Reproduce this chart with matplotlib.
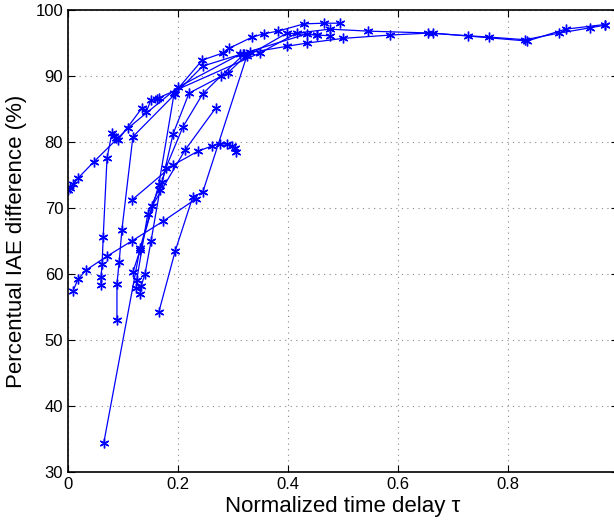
import matplotlib
matplotlib.use("Agg")
import matplotlib.pyplot as plt

plt.rcParams['font.family'] = ['Liberation Sans', 'DejaVu Sans']

# Each series: normalized time delay tau and percentual IAE difference
tau_1 = [0.000, 0.004, 0.009, 0.018, 0.047, 0.109, 0.200, 0.313, 0.398, 0.435, 0.500,
         0.585, 0.655, 0.727, 0.765, 0.831, 0.893, 0.949, 0.976]
iae_1 = [72.7, 73.0, 73.6, 74.5, 77.0, 82.1, 88.3, 93.3, 94.5, 95.0, 95.7,
         96.2, 96.5, 96.1, 95.9, 95.5, 96.5, 97.3, 97.7]

tau_2 = [0.060, 0.060, 0.062, 0.064, 0.071, 0.080, 0.084, 0.087, 0.091, 0.135, 0.142,
         0.151, 0.162, 0.165, 0.349, 0.416, 0.476, 0.545, 0.664, 0.835, 0.905, 0.976]
iae_2 = [58.3, 59.5, 61.5, 65.6, 77.6, 81.4, 80.9, 80.6, 80.3, 85.2, 84.5,
         86.4, 86.5, 86.7, 93.5, 96.5, 97.1, 96.8, 96.5, 95.3, 97.1, 97.8]

tau_3 = [0.116, 0.191, 0.236, 0.262, 0.276, 0.289, 0.298, 0.304, 0.305]
iae_3 = [71.2, 76.5, 78.6, 79.4, 79.7, 79.7, 79.4, 79.1, 78.5]

tau_4 = [0.089, 0.089, 0.093, 0.098, 0.118, 0.195, 0.245, 0.318, 0.435, 0.453, 0.476]
iae_4 = [53.0, 58.5, 61.8, 66.7, 80.8, 87.3, 91.5, 93.4, 96.4, 96.2, 96.1]

tau_5 = [0.009, 0.018, 0.033, 0.071, 0.116, 0.173, 0.233]
iae_5 = [57.4, 59.2, 60.6, 62.7, 65.0, 68.0, 71.4]

tau_6 = [0.165, 0.195, 0.227, 0.245, 0.325, 0.398, 0.453]
iae_6 = [54.2, 63.5, 71.7, 72.4, 93.0, 96.5, 96.2]

tau_7 = [0.124, 0.125, 0.145, 0.171, 0.191, 0.220, 0.291, 0.330]
iae_7 = [57.9, 59.1, 69.1, 73.9, 81.2, 87.4, 90.5, 93.6]

tau_8 = [0.131, 0.133, 0.140, 0.151, 0.167, 0.178, 0.209, 0.245, 0.278, 0.320]
iae_8 = [57.0, 58.2, 60.0, 65.0, 72.7, 76.1, 82.3, 87.3, 90.0, 93.3]

tau_9 = [0.118, 0.131, 0.165, 0.193, 0.244, 0.282, 0.293, 0.335, 0.356, 0.382,
         0.429, 0.465, 0.495]
iae_9 = [60.3, 63.6, 73.5, 87.4, 92.4, 93.5, 94.2, 95.9, 96.4, 96.8,
         97.9, 98.0, 98.0]

tau_10 = [0.065, 0.131, 0.153, 0.213, 0.269]
iae_10 = [34.4, 63.9, 70.3, 78.8, 85.2]

series = [(tau_1, iae_1), (tau_2, iae_2), (tau_3, iae_3), (tau_4, iae_4),
          (tau_5, iae_5), (tau_6, iae_6), (tau_7, iae_7), (tau_8, iae_8),
          (tau_9, iae_9), (tau_10, iae_10)]

xticks = [0, 0.2, 0.4, 0.6, 0.8, 1]
xticklabels = ['0', '0.2', '0.4', '0.6', '0.8', '1']
yticks = [30, 40, 50, 60, 70, 80, 90, 100]

fig = plt.figure(figsize=(6.14, 5.22), dpi=100)
ax = fig.add_axes([68 / 614, 50 / 522, 550 / 614, 462 / 522])

for t, v in series:
    ax.plot(t, v, '-', color='#0000ff', linewidth=0.9, marker=(6, 2, 0),
            markersize=7, markeredgewidth=1.0)

ax.set_xlim(0, 1)
ax.set_ylim(30, 100)
ax.set_xticks(xticks)
ax.set_xticklabels(xticklabels)
ax.set_yticks(yticks)
ax.grid(True, linestyle=(0, (1, 4)), color='#888888', linewidth=0.8)
ax.tick_params(direction='in', top=True, right=True, labelsize=12, length=5)
for s in ax.spines.values():
    s.set_linewidth(1.2)
ax.set_xlabel('Normalized time delay τ', fontsize=16, labelpad=3)
ax.set_ylabel('Percentual IAE difference (%)', fontsize=16, labelpad=6)

fig.savefig('out.png', dpi=100)
